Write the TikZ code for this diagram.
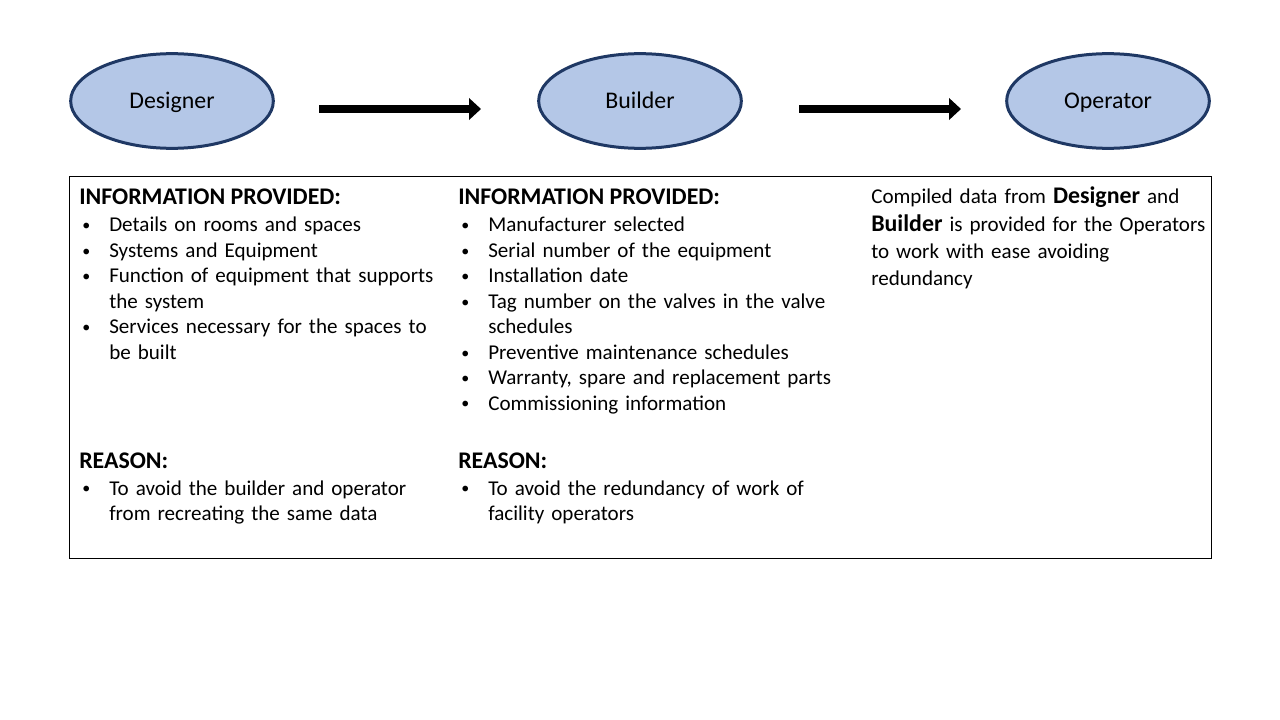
\documentclass[tikz,border=0pt]{standalone}
\usepackage{fontspec}
\setmainfont{Carlito}
\usetikzlibrary{shapes.geometric,arrows.meta}

\definecolor{roleblue}{RGB}{180,199,231}
\definecolor{roleedge}{RGB}{31,56,100}

\newcommand{\bitem}[1]{\noindent\hangindent=22.5pt\hangafter=1\makebox[22.5pt][l]{\hspace{2.25pt}\raisebox{1pt}{\fontsize{12}{12}\selectfont\textbullet}}#1\par}
\newcommand{\headfont}{\fontsize{17.9}{21}\selectfont\bfseries}
\newcommand{\listfont}{\fontsize{15.8}{19.1}\selectfont}

\tikzset{
  role/.style={draw=roleedge, line width=2.25pt, fill=roleblue, ellipse,
    minimum width=152pt, minimum height=71pt, inner sep=0pt,
    text height=11.4pt, text depth=0pt,
    font=\fontsize{17.9}{21}\selectfont},
  flow/.style={line width=6pt, -{Triangle[length=9pt,width=16pt]}},
  heading/.style={anchor=base west, inner sep=0pt, font=\headfont},
  itemlist/.style={anchor=base west, inner sep=0pt, text width=290pt, font=\listfont}
}

\begin{document}
\begin{tikzpicture}[x=0.75pt,y=-0.75pt]
          \useasboundingbox (0,0) rectangle (1280,720);
          % Nodes
          \node[role] (designer) at (172,101) {Designer};
          \node[role] (builder) at (640,101) {Builder};
          \node[role] (operator) at (1108,101) {Operator};

          % Arrows
          \coordinate (db start) at (319,109);
          \coordinate (db end) at (481,109);
          \coordinate (bo start) at (799,109);
          \coordinate (bo end) at (961,109);
          \draw[flow] (db start) -- (db end);
          \draw[flow] (bo start) -- (bo end);

          % Frame
          \draw[line width=0.75pt] (69,177) rectangle (1211,558);

          % Designer column
          \node[heading] (dinfo) at (79,205) {INFORMATION PROVIDED:};
          \node[itemlist] (dlist) at (79,232) {\raggedright
            \bitem{Details on rooms and spaces}
            \bitem{Systems and Equipment}
            \bitem{Function of equipment that supports\newline the system}
            \bitem{Services necessary for the spaces to\newline be built}};
          \node[heading] (dreason) at (79,468) {REASON:};
          \node[itemlist] (dwhy) at (79,495) {\raggedright
            \bitem{To avoid the builder and operator\newline from recreating the same data}};

          % Builder column
          \node[heading] (binfo) at (458,205) {INFORMATION PROVIDED:};
          \node[itemlist] (blist) at (458,232) {\raggedright
            \bitem{Manufacturer selected}
            \bitem{Serial number of the equipment}
            \bitem{Installation date}
            \bitem{Tag number on the valves in the valve\newline schedules}
            \bitem{Preventive maintenance schedules}
            \bitem{Warranty, spare and replacement parts}
            \bitem{Commissioning information}};
          \node[heading] (breason) at (458,468) {REASON:};
          \node[itemlist] (bwhy) at (458,495) {\raggedright
            \bitem{To avoid the redundancy of work of\newline facility operators}};

          % Operator column
          \node[itemlist, font=\fontsize{15.8}{20.5}\selectfont] (osum) at (871,204) {\raggedright
            Compiled data from {\headfont Designer} and\\
            {\headfont Builder} is provided for the Operators\\
            to work with ease avoiding\\
            redundancy};
        \end{tikzpicture}
\end{document}
